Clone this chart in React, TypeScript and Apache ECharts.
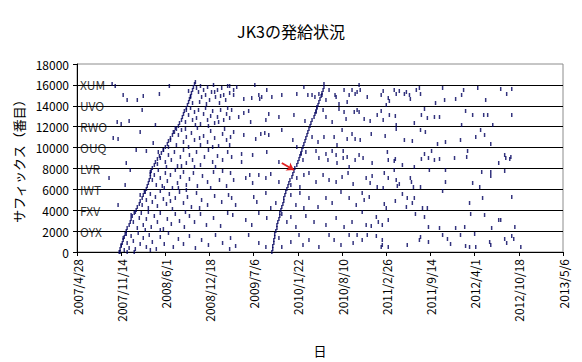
import React, { useEffect, useRef } from "react";
import * as echarts from "echarts";

// x values are Excel date serials (39200 = 2007/4/28), y values are suffix numbers
const xTickStart = 39200;
const xTickEnd = 41400;
const xTickStep = 200;
const yMax = 18000;
const yStep = 2000;

const prefixNames = ["OYX", "FXV", "IWT", "LVR", "OUQ", "RWO", "UVO", "XUM"];
const prefixStarts = [2000, 4000, 6000, 8000, 10000, 12000, 14000, 16000];

const arrowFrom = [40127, 8521];
const arrowTo = [40182, 7851];

const firstWaveEdge = [
  [39391,0],[39395,287],[39400,574],[39405,862],[39409,1149],[39414,1436],[39418,1723],[39423,2011],[39427,2298],[39436,2585],
  [39441,2872],[39445,3159],[39450,3447],[39459,3734],[39468,4021],[39473,4308],[39482,4596],[39486,4883],[39495,5170],[39500,5457],
  [39509,5744],[39514,6032],[39518,6319],[39523,6606],[39527,6893],[39532,7180],[39532,7468],[39536,7755],[39541,8042],[39550,8329],
  [39555,8617],[39564,8904],[39573,9191],[39582,9478],[39591,9765],[39600,10053],[39609,10340],[39614,10627],[39623,10914],[39632,11202],
  [39641,11489],[39650,11776],[39659,12063],[39664,12350],[39673,12638],[39677,12925],[39682,13212],[39686,13499],[39695,13786],[39700,14074],
  [39705,14361],[39709,14648],[39714,14935],[39718,15223],[39723,15510],[39727,15797],[39732,16084],[39736,16276],
];

const firstWaveSpread = [
  [39741,15701],[39750,15318],[39759,15893],[39764,14840],[39773,15510],[39782,15031],[39791,15797],[39800,14552],[39809,15318],[39818,15989],
  [39827,14840],[39836,15510],[39845,14265],[39855,15701],[39864,15031],[39873,14552],[39882,15893],[39891,15223],[39755,14361],[39786,14169],
  [39823,15318],[39850,14935],[39714,14840],[39723,14265],[39705,15414],
  [39695,13595],[39705,13116],[39714,13786],[39723,12638],[39732,13403],[39741,12829],[39750,13595],[39759,12255],[39773,13212],[39782,13786],
  [39791,12638],[39805,13020],[39814,13499],[39823,12350],[39836,12925],[39850,13595],[39864,12638],[39877,13212],[39891,12829],[39691,12446],
  [39736,12159],[39795,12063],[39841,12446],[39882,13786],
  [39623,10723],[39636,11489],[39650,10244],[39659,11202],[39673,11680],[39682,10531],[39695,11010],[39705,10053],[39718,11393],[39732,10723],
  [39745,11872],[39759,10244],[39773,11106],[39791,10531],[39805,11584],[39823,10914],[39841,10148],[39859,11297],[39877,10723],[39891,10244],
  [39645,11872],[39614,10053],[39691,11776],[39755,10914],[39814,10053],[39868,11776],
  [39568,9574],[39577,9000],[39591,9765],[39600,8617],[39614,9287],[39627,8808],[39641,9574],[39655,8234],[39668,9095],[39682,9765],
  [39695,8521],[39709,9287],[39723,8808],[39741,9574],[39759,8329],[39777,9095],[39795,9765],[39814,8617],[39836,9191],[39859,8808],
  [39882,9574],[39564,8425],[39605,8138],[39673,8234],[39732,8138],[39827,8138],
  [39532,7659],[39541,6893],[39550,7372],[39559,6415],[39568,7851],[39577,7085],[39586,6319],[39600,7563],[39609,6798],[39623,7372],
  [39632,6127],[39645,7851],[39655,6606],[39668,7180],[39682,7659],[39695,6415],[39709,6989],[39727,7563],[39745,6319],[39768,7276],
  [39791,6702],[39818,7659],[39845,6893],[39877,6319],[39595,6127],[39659,6127],[39805,6127],[39859,7755],
  [39486,5457],[39495,4500],[39505,5744],[39514,4978],[39523,4213],[39532,5553],[39541,4787],[39555,5266],[39564,4404],[39577,5840],
  [39591,5074],[39605,4596],[39618,5553],[39632,4117],[39645,5170],[39664,5744],[39682,4691],[39700,5266],[39718,4308],[39741,5649],
  [39764,4978],[39791,4500],[39823,5361],[39855,4787],[39886,5457],[39623,4883],[39695,5936],[39755,4213],
  [39445,3542],[39455,2872],[39464,3830],[39473,2298],[39482,3255],[39491,3734],[39500,2585],[39514,3159],[39523,3830],[39536,2394],
  [39550,3447],[39564,2872],[39577,3734],[39591,2202],[39609,3159],[39627,2681],[39645,3638],[39664,2968],[39686,2394],[39709,3447],
  [39732,2872],[39759,3638],[39786,2585],[39818,3255],[39850,2489],[39882,3734],[39509,2106],[39577,2106],[39691,3830],
  [39400,670],[39409,1340],[39414,191],[39423,1723],[39427,862],[39436,383],[39445,1532],[39455,1053],[39464,287],[39477,1819],
  [39486,766],[39500,1340],[39514,479],[39527,1628],[39541,957],[39559,287],[39577,1436],[39595,766],[39614,1819],[39636,479],
  [39659,1245],[39682,766],[39709,1532],[39736,383],[39764,1149],[39795,670],[39827,1628],[39859,862],[39891,287],[39395,0],
  [39427,0],[39459,0],[39532,191],
];

const beforeFirstWave = [
  [39409,15031],[39500,14935],[39573,15127],[39473,14552],[39618,15893],[39495,13595],[39400,12255],[39436,12542],[39486,11489],[39364,10914],
  [39386,10819],[39545,10436],[39514,9670],[39359,16084],[39373,15893],[39427,14552],[39382,12446],[39345,7085],[39418,6415],[39423,8521],
  [39468,9765],[39441,7851],[39386,4500],[39555,12159],
];

const secondWaveEdge = [
  [40082,0],[40086,287],[40086,574],[40091,862],[40091,1149],[40095,1436],[40095,1723],[40100,2011],[40105,2298],[40105,2585],
  [40109,2872],[40114,3159],[40118,3447],[40118,3734],[40123,4021],[40127,4308],[40132,4596],[40136,4883],[40136,5170],[40141,5457],
  [40145,5744],[40150,6032],[40155,6319],[40159,6606],[40164,6893],[40173,7180],[40177,7468],[40182,7755],[40186,8042],[40195,8329],
  [40200,8617],[40205,8904],[40209,9191],[40214,9478],[40218,9765],[40223,10053],[40227,10340],[40232,10627],[40236,10914],[40241,11202],
  [40245,11489],[40250,11776],[40255,12063],[40259,12350],[40264,12638],[40273,12925],[40277,13212],[40282,13499],[40286,13786],[40291,14074],
  [40295,14361],[40300,14648],[40305,14935],[40309,15223],[40314,15510],[40318,15797],[40318,16084],
];

const secondWaveSpread = [
  [39891,15893],[39909,15510],[39923,15797],[39909,15031],[39955,14648],[39991,14744],[40005,15989],[40023,15031],[40027,14648],[40036,14840],
  [40059,15510],[40082,14840],[40127,15031],[40195,15127],[40227,15797],[40245,15031],[40264,15031],[40277,14840],[40295,15127],[40309,15031],
  [40327,14552],[40341,15510],[40368,15031],[40373,14840],[40409,15510],[40432,15031],[40445,15510],[40459,15127],[40468,15318],[40386,14169],
  [40423,14361],
  [39900,13595],[39932,12925],[39955,13308],[39977,13499],[39986,12446],[40055,12638],[40068,13212],[40114,12925],[40182,13116],[40232,12542],
  [40286,13882],[40282,13403],[40314,13595],[40327,12925],[40386,13691],[40409,13403],[40455,13403],[40468,13595],[40355,12446],[40418,12733],
  [39895,11010],[39909,11489],[39955,11202],[40009,10819],[40032,11297],[40050,11393],[40068,11202],[40127,11680],[40177,10723],[40195,10053],
  [40264,11010],[40291,10531],[40318,11010],[40364,11010],[40377,10244],[40400,11680],[40423,10819],[40445,11297],[40459,10819],
  [39945,9383],[39995,9287],[40059,9574],[40214,9383],[40236,9574],[40282,9670],[40327,9383],[40355,9670],[40373,9287],[40405,9670],
  [40423,9095],[39900,9095],[39945,8617],[40114,8617],[40223,8808],[40295,9000],[40336,8808],[40377,8521],[40405,9000],[40432,8138],
  [40459,8808],
  [39895,7563],[39909,6893],[39964,7085],[39982,7372],[39995,6606],[40023,7372],[40055,7085],[40077,7468],[40114,6702],[40168,6415],
  [40195,7085],[40209,6223],[40227,7372],[40250,7563],[40282,6702],[40314,7372],[40341,6893],[40373,6702],[40400,7180],[40427,7563],
  [40450,6510],
  [39900,5170],[39918,4500],[40000,5266],[40014,4787],[40055,5649],[40077,4213],[40100,4691],[40168,5457],[40191,4500],[40209,5649],
  [40227,4213],[40250,5170],[40291,4308],[40327,5170],[40355,4691],[40395,5744],[40432,5170],[40464,4500],
  [39905,3542],[39964,3064],[39991,2585],[40023,3734],[40059,3255],[40127,3638],[40150,2872],[40168,3351],[40191,2394],[40236,3447],
  [40273,2872],[40327,2585],[40373,3255],[40409,2394],[40445,2872],
  [39895,1340],[39918,574],[39977,1628],[40023,862],[40055,479],[40114,1340],[40127,479],[40168,957],[40205,1628],[40223,670],
  [40250,1149],[40295,479],[40341,1628],[40364,1149],[40395,670],[40432,1628],[40450,862],[40468,1628],
];

const laterSpread = [
  [40477,15989],[40482,15510],[40514,14840],[40577,15031],[40586,15414],[40609,14744],[40614,14457],[40636,15510],[40645,15127],[40659,15414],
  [40682,15127],[40691,15318],[40705,15031],[40709,14648],[40736,15510],[40750,15701],[40755,15127],[40855,15701],[40864,14552],[40914,14648],
  [40950,15510],[40941,15031],[41014,15701],[41050,14552],[41118,15606],[41145,15127],[41168,15606],[40823,14265],
  [40477,13403],[40500,12733],[40527,12542],[40559,13116],[40577,13499],[40586,12638],[40614,13116],[40641,13020],[40645,12159],[40727,12350],
  [40759,13116],[40773,13691],[40786,12829],[40818,12925],[40841,12925],[40941,12159],[40959,13499],[40991,13116],[41041,13116],[41059,13116],
  [41082,12159],[41168,13116],[40600,14074],
  [40482,10723],[40532,11297],[40595,11106],[40645,11776],[40682,10723],[40718,10627],[40755,11680],[40777,11489],[40832,10340],[40868,10531],
  [40936,10723],[41027,11680],[41045,11202],[41073,10340],[41005,11010],
  [40495,9000],[40609,8808],[40636,8712],[40759,8904],[40791,9000],[40818,8808],[40909,9000],[40964,9095],[41109,8521],[41141,9000],
  [41164,9095],[40727,8138],[40673,8329],[40536,8521],[40477,9287],[40605,9574],[40641,8904],[40773,9383],[40805,9670],[40841,8904],
  [40968,9670],[41136,9287],[41159,8904],
  [40509,7085],[40536,7276],[40527,6606],[40591,7563],[40609,7085],[40636,7851],[40645,6893],[40659,6510],[40709,7085],[40714,6702],
  [40723,6223],[40795,7851],[40868,7851],[40868,6702],[40991,6606],[41023,6223],[41032,7659],[41073,7659],[41073,7276],[41136,7755],
  [40755,6223],[40559,6223],[40586,6127],[40650,6319],
  [40491,5649],[40523,5266],[40500,4978],[40591,4596],[40600,4213],[40641,4883],[40673,5553],[40695,5170],[40727,5170],[40718,4691],
  [40691,4308],[40764,4213],[40786,4213],[40855,5840],[40977,4691],[41036,5170],[41168,5266],
  [40491,3830],[40555,3351],[40564,2872],[40509,2585],[40532,2489],[40582,2585],[40609,3064],[40732,3638],[40773,3351],[40791,2394],
  [40841,2298],[40914,2298],[40955,2394],[40982,3638],[41045,3542],[41109,3064],[41118,3064],[41182,2394],[41077,2298],
  [40514,1628],[40491,1149],[40555,1532],[40582,1149],[40582,670],[40577,479],[40609,479],[40695,670],[40750,1149],[40755,1436],
  [40791,957],[40855,1628],[40877,1245],[40891,766],[40936,1628],[40959,574],[41005,479],[41000,1723],[41068,957],[41136,1245],
  [41145,862],[41168,1532],[41177,1245],[41209,479],[40977,479],[41073,670],
];

const FONT = "'Noto Sans CJK JP', 'Noto Sans', sans-serif";
const POINT_COLOR = "#00005e";

function serialToLabel(v: number): string {
  const d = new Date(Math.round((v - 25569) * 86400000));
  return `${d.getUTCFullYear()}/${d.getUTCMonth() + 1}/${d.getUTCDate()}`;
}

function pointSeries(name: string, data: number[][]) {
  return {
    name,
    type: "scatter",
    data,
    symbol: "rect",
    symbolSize: [1.5, 4],
    itemStyle: { color: POINT_COLOR },
    silent: true,
  };
}

export default function App() {
  const ref = useRef<HTMLDivElement>(null);

  useEffect(() => {
    if (!ref.current) return;
    const chart = echarts.init(ref.current, undefined, { renderer: "svg" });
    const labelData = prefixStarts.map((v, i) => [xTickStart, v, prefixNames[i]]);
    chart.setOption({
      animation: false,
      backgroundColor: "#ffffff",
      textStyle: { fontFamily: FONT },
      title: {
        text: "JK3の発給状況",
        left: "center",
        top: 18,
        textStyle: { fontSize: 16, fontWeight: "normal", color: "#000", fontFamily: FONT },
      },
      grid: {
        left: 77,
        right: 19,
        top: 64,
        bottom: 110,
        show: true,
        borderColor: "#8c8c8c",
        borderWidth: 1,
        backgroundColor: "#fff",
      },
      xAxis: {
        type: "value",
        min: xTickStart,
        max: xTickEnd,
        interval: xTickStep,
        name: "日",
        nameLocation: "middle",
        nameGap: 92,
        nameTextStyle: { fontSize: 13, color: "#000", fontFamily: FONT },
        axisLine: { show: true, lineStyle: { color: "#000", width: 1 } },
        axisTick: { show: true, length: 4, lineStyle: { color: "#000" } },
        axisLabel: {
          rotate: 90,
          fontSize: 12,
          color: "#000",
          margin: 7,
          fontFamily: FONT,
          formatter: (v: number) => serialToLabel(v),
        },
        splitLine: { show: false },
      },
      yAxis: {
        type: "value",
        min: 0,
        max: yMax,
        interval: yStep,
        name: "サフィックス（番目）",
        nameLocation: "middle",
        nameRotate: 90,
        nameGap: 52,
        nameTextStyle: { fontSize: 13, color: "#000", fontFamily: FONT },
        axisLine: { show: true, lineStyle: { color: "#000", width: 1 } },
        axisTick: { show: true, length: 4, lineStyle: { color: "#000" } },
        axisLabel: {
          fontSize: 12,
          color: "#000",
          margin: 8,
          fontFamily: FONT,
          formatter: (v: number) => String(v),
        },
        splitLine: {
          show: true,
          showMinLine: false,
          showMaxLine: false,
          lineStyle: { color: "#000", width: 1 },
        },
      },
      series: [
        pointSeries("firstWaveEdge", firstWaveEdge),
        pointSeries("firstWaveSpread", firstWaveSpread),
        pointSeries("beforeFirstWave", beforeFirstWave),
        pointSeries("secondWaveSpread", secondWaveSpread),
        pointSeries("laterSpread", laterSpread),
        {
          ...pointSeries("secondWaveEdge", secondWaveEdge),
          markLine: {
            silent: true,
            symbol: ["none", "arrow"],
            symbolSize: 7,
            label: { show: false },
            lineStyle: { color: "#e02020", width: 2, type: "solid" },
            data: [[{ coord: arrowFrom }, { coord: arrowTo }]],
          },
        },
        {
          name: "prefixes",
          type: "scatter",
          data: labelData,
          symbolSize: 0,
          silent: true,
          label: {
            show: true,
            position: "right",
            distance: 3,
            color: "#000",
            fontSize: 12,
            fontFamily: FONT,
            formatter: (p: any) => p.data[2],
          },
        },
      ],
    });
    return () => chart.dispose();
  }, []);

  return (
    <div
      ref={ref}
      style={{ position: "fixed", left: 0, top: 0, width: 582, height: 362, background: "#fff" }}
    />
  );
}
